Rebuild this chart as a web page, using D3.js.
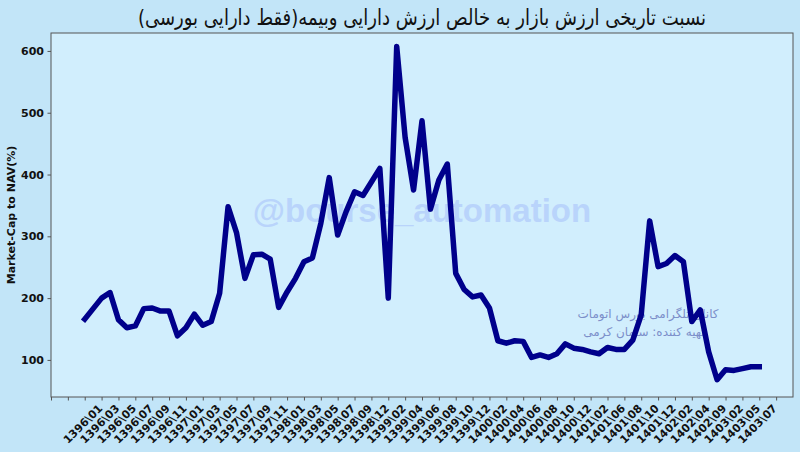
<!DOCTYPE html>
<html>
<head>
<meta charset="utf-8">
<script src="https://cdn.jsdelivr.net/npm/d3@7"></script>
<style>
  html, body { margin: 0; padding: 0; background: #c2e5f8; }
  svg { display: block; }
</style>
</head>
<body>
<svg id="chart" width="800" height="452"></svg>
<script>
// ---- data ----
const titleText = "نسبت تاریخی ارزش بازار به خالص ارزش دارایی وبیمه(فقط دارایی بورسی)";
const yLabel = "Market-Cap to NAV(%)";
const watermark = "@bourse_automation";
const noteLines = ["کانال تلگرامی بورس اتومات", "تهیه کننده: سامان کرمی"];

const tickLabels = [
  "1396\\01","1396\\03","1396\\05","1396\\07","1396\\09","1396\\11",
  "1397\\01","1397\\03","1397\\05","1397\\07","1397\\09","1397\\11",
  "1398\\01","1398\\03","1398\\05","1398\\07","1398\\09","1398\\12",
  "1399\\02","1399\\04","1399\\06","1399\\08","1399\\10","1399\\12",
  "1400\\02","1400\\04","1400\\06","1400\\08","1400\\10","1400\\12",
  "1401\\02","1401\\06","1401\\08","1401\\10","1401\\12",
  "1402\\02","1402\\04","1402\\09",
  "1403\\02","1403\\05","1403\\07"
];

const values = [
  166,183,200,209,165,152,155,183,184,179,
  179,139,152,174,156,162,208,348,306,232,
  270,271,263,185,210,232,259,265,321,395,
  302,340,372,366,388,410,200,607,460,375,
  487,344,391,417,240,214,202,205,184,131,
  127,131,130,104,108,104,110,126,119,117,
  113,110,120,117,117,132,173,325,251,256,
  269,259,162,181,113,68,84,83,86,89,
  89
];

const yTicks = [100,200,300,400,500,600];

// ---- layout ----
const svg = d3.select("#chart");
const W = 800, H = 452;
const plot = {left: 51, right: 793, top: 33, bottom: 397};

svg.append("rect").attr("width", W).attr("height", H).attr("fill", "#c2e5f8");
svg.append("rect")
  .attr("x", plot.left).attr("y", plot.top)
  .attr("width", plot.right - plot.left).attr("height", plot.bottom - plot.top)
  .attr("fill", "#d1eefd");

const x = d3.scaleLinear().domain([-4, 84]).range([plot.left, plot.right]);
const y = d3.scaleLinear().domain([40, 629]).range([plot.bottom, plot.top]);

// watermark
svg.append("text")
  .attr("x", 422).attr("y", 222)
  .attr("text-anchor", "middle")
  .attr("font-family", "Liberation Sans, Arial, sans-serif")
  .attr("font-weight", "bold")
  .attr("font-size", 33)
  .attr("fill", "#b9d4fb")
  .text(watermark);

// note text
noteLines.forEach((t, i) => {
  svg.append("text")
    .attr("x", 648 - i * 4).attr("y", 318 + i * 18)
    .attr("text-anchor", "middle")
    .attr("font-family", "DejaVu Sans, sans-serif")
    .attr("font-size", 12)
    .attr("fill", "#7c8fca")
    .text(t);
});

// line
const line = d3.line()
  .x((d, i) => x(i))
  .y(d => y(d));

svg.append("path")
  .datum(values)
  .attr("d", line)
  .attr("fill", "none")
  .attr("stroke", "#00008b")
  .attr("stroke-width", 5.5)
  .attr("stroke-linejoin", "round")
  .attr("stroke-linecap", "square");

// frame
svg.append("rect")
  .attr("x", plot.left).attr("y", plot.top)
  .attr("width", plot.right - plot.left).attr("height", plot.bottom - plot.top)
  .attr("fill", "none").attr("stroke", "#555").attr("stroke-width", 1);

// y axis
const yAxis = d3.axisLeft(y).tickValues(yTicks).tickSize(3.5).tickPadding(3.5);
const gy = svg.append("g").attr("transform", `translate(${plot.left},0)`).call(yAxis);
gy.select(".domain").remove();
gy.selectAll("line").attr("stroke", "#555");
gy.selectAll("text")
  .attr("font-family", "DejaVu Sans, sans-serif")
  .attr("font-weight", "bold")
  .attr("font-size", 11)
  .attr("fill", "#111");

// x axis
const xTickVals = d3.range(-4, 83, 2);
const xAxis = d3.axisBottom(x).tickValues(xTickVals).tickSize(3.5)
  .tickFormat(d => (d >= 0 && d / 2 < tickLabels.length) ? tickLabels[d / 2] : "");
const gx = svg.append("g").attr("transform", `translate(0,${plot.bottom})`).call(xAxis);
gx.select(".domain").remove();
gx.selectAll("line").attr("stroke", "#555");
gx.selectAll("text")
  .attr("font-family", "DejaVu Sans, sans-serif")
  .attr("font-weight", "bold")
  .attr("font-size", 11)
  .attr("fill", "#111")
  .attr("text-anchor", "end")
  .attr("dy", null)
  .attr("y", 0)
  .attr("transform", "translate(18,12) rotate(-45)");

// y label
svg.append("text")
  .attr("transform", `translate(15,${(plot.top + plot.bottom) / 2}) rotate(-90)`)
  .attr("text-anchor", "middle")
  .attr("font-family", "DejaVu Sans, sans-serif")
  .attr("font-weight", "bold")
  .attr("font-size", 11)
  .attr("fill", "#111")
  .text(yLabel);

// title
svg.append("text")
  .attr("x", 0).attr("y", 0)
  .attr("transform", `translate(${(plot.left + plot.right) / 2},25) scale(0.82,1)`)
  .attr("text-anchor", "middle")
  .attr("font-family", "DejaVu Sans, sans-serif")
  .attr("font-size", 22)
  .attr("fill", "#111")
  .text(titleText);
</script>
</body>
</html>
